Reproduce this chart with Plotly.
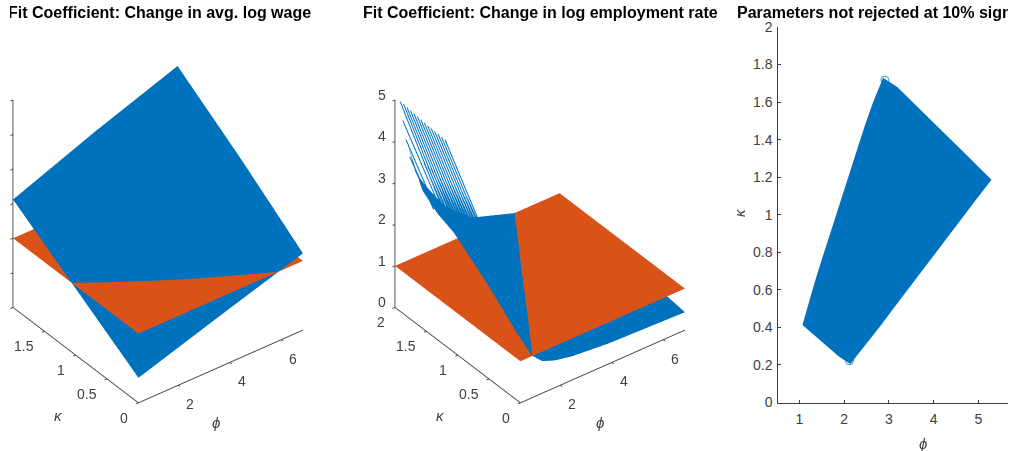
import plotly.graph_objects as go

BLUE = "#0072BD"
ORANGE = "#D95319"
INK = "#404040"

# --- panel 1 -------------------------------------------------------------
wage_phi = [0.45, 3.65, 6.85]
wage_kappa = [0.0, 1.0, 2.0]
wage_blue = [[0.36, 0.74, 1.11],
             [0.96, 1.40, 1.80],
             [1.56, 2.02, 2.44]]
wage_orange = [[1.0, 1.0, 1.0], [1.0, 1.0, 1.0], [1.0, 1.0, 1.0]]

# --- panel 2 -------------------------------------------------------------
emp_kappa = [0.0, 0.25, 0.5, 0.75, 1.0, 1.25, 1.5, 1.75, 2.0]
emp_phi = [
    [0.90, 0.90, 0.90, 0.91, 0.91, 0.92, 1.28, 1.75, 2.46, 3.89, 6.85],
    [0.90, 0.94, 1.00, 1.09, 1.22, 1.44, 1.76, 2.20, 2.85, 4.15, 6.85],
    [0.90, 0.99, 1.09, 1.27, 1.54, 1.97, 2.26, 2.65, 3.24, 4.41, 6.85],
    [0.90, 1.03, 1.19, 1.46, 1.85, 2.49, 2.75, 3.10, 3.62, 4.67, 6.85],
    [0.90, 1.07, 1.28, 1.64, 2.17, 3.01, 3.24, 3.55, 4.01, 4.93, 6.85],
    [0.90, 1.11, 1.37, 1.82, 2.48, 3.53, 3.73, 3.99, 4.39, 5.19, 6.85],
    [0.90, 1.15, 1.47, 2.00, 2.79, 4.06, 4.22, 4.45, 4.78, 5.45, 6.85],
    [0.90, 1.19, 1.56, 2.19, 3.11, 4.58, 4.72, 4.90, 5.17, 5.72, 6.85],
    [0.90, 1.24, 1.66, 2.37, 3.42, 5.10, 5.21, 5.35, 5.55, 5.98, 6.85],
]
emp_blue = [
    [1.02, 1.01, 1.01, 1.01, 1.00, 1.00, 0.78, 0.66, 0.57, 0.49, 0.43],
    [1.29, 1.25, 1.20, 1.13, 1.07, 1.00, 0.86, 0.75, 0.66, 0.56, 0.48],
    [1.64, 1.60, 1.49, 1.33, 1.16, 1.00, 0.90, 0.82, 0.73, 0.63, 0.53],
    [1.97, 1.90, 1.69, 1.44, 1.21, 1.00, 0.93, 0.86, 0.79, 0.69, 0.58],
    [2.26, 2.17, 1.87, 1.53, 1.24, 1.00, 0.95, 0.89, 0.83, 0.74, 0.63],
    [2.55, 2.41, 2.02, 1.60, 1.27, 1.00, 0.96, 0.92, 0.87, 0.79, 0.68],
    [2.70, 2.64, 2.15, 1.66, 1.29, 1.00, 0.97, 0.94, 0.90, 0.83, 0.73],
    [2.99, 2.65, 2.26, 1.71, 1.31, 1.00, 0.98, 0.96, 0.92, 0.87, 0.78],
    [3.90, 3.05, 2.59, 1.92, 1.35, 1.00, 0.99, 0.97, 0.95, 0.90, 0.83],
]
emp_orange_phi = [0.45, 6.85]
emp_orange_kappa = [0.0, 2.0]
emp_orange = [[1.0, 1.0], [1.0, 1.0]]

spike_kappa = [1.98, 1.97, 1.96, 1.95, 1.895, 1.84, 1.785, 1.73, 1.675, 1.62, 1.565, 1.51, 1.455, 1.40, 1.345, 1.29, 1.235,
               1.9225, 1.8675, 1.8125, 1.7575, 1.7025, 1.6475, 1.5925, 1.5375, 1.4825, 1.4275, 1.3725, 1.3175, 1.2625]
spike_phi_top = [0.98, 0.80, 0.66, 0.53, 0.53, 0.53, 0.53, 0.53, 0.53, 0.53, 0.53, 0.53, 0.53, 0.53, 0.53, 0.53, 0.53,
                 1.40, 1.40, 1.40, 1.40, 1.40, 1.40, 1.40, 1.40, 1.40, 1.40, 1.40, 1.40, 1.40]
spike_z_top = [3.50, 3.99, 4.49, 5.0, 5.0, 4.98, 4.97, 4.96, 4.95, 4.94, 4.93, 4.92, 4.92, 4.91, 4.91, 4.90, 4.90,
               3.30, 3.30, 3.30, 3.30, 3.30, 3.30, 3.30, 3.30, 3.30, 3.30, 3.30, 3.30, 3.30]
spike_phi_bot = [1.91, 1.96, 2.06, 2.12, 2.11, 2.10, 2.08, 2.07, 2.06, 2.05, 2.03, 2.02, 2.01, 2.00, 1.98, 1.97, 1.96,
                 2.11, 2.10, 2.09, 2.08, 2.07, 2.06, 2.04, 2.03, 2.02, 2.01, 1.99, 1.98, 1.97]
spike_z_bot = [1.98, 2.00, 2.08, 2.07, 2.09, 2.12, 2.14, 2.16, 2.19, 2.21, 2.24, 2.26, 2.28, 2.31, 2.33, 2.36, 2.38,
               2.08, 2.10, 2.13, 2.15, 2.17, 2.20, 2.22, 2.25, 2.27, 2.29, 2.32, 2.34, 2.37]

# --- panel 3 -------------------------------------------------------------
region_phi = [1.48, 1.65, 1.815, 1.99, 2.16, 2.35, 2.53, 2.72, 2.91,
              3.14, 3.36, 3.59, 3.82, 4.045, 4.27, 4.5, 4.725, 4.95, 5.18,
              4.87, 4.57, 4.26, 3.955, 3.65, 3.34, 3.03, 2.73, 2.42, 2.12,
              1.926, 1.736, 1.546, 1.355, 1.165, 1.32, 1.48]
region_kappa = [0.68, 0.81, 0.94, 1.07, 1.20, 1.33, 1.46, 1.59, 1.70,
                1.664, 1.61, 1.557, 1.504, 1.451, 1.398, 1.345, 1.29, 1.238, 1.185,
                1.089, 0.992, 0.896, 0.80, 0.703, 0.607, 0.511, 0.415, 0.318, 0.232,
                0.262, 0.30, 0.34, 0.38, 0.42, 0.55, 0.68]
tip_phi = [2.91, 2.12]
tip_kappa = [1.717, 0.222]

phi_ticks = [2, 4, 6]
kappa_ticks = [0, 0.5, 1, 1.5, 2]
kappa_labels_1 = ["0", "0.5", "1", "1.5"]
kappa_labels_2 = ["0", "0.5", "1", "1.5", "2"]
emp_z_ticks = [0, 1, 2, 3, 4, 5]
wage_z_ticks = [0, 0.5, 1, 1.5, 2, 2.5, 3]
phi3_ticks = [1, 2, 3, 4, 5]
kappa3_ticks = [0, 0.2, 0.4, 0.6, 0.8, 1, 1.2, 1.4, 1.6, 1.8, 2]
titles = ["Fit Coefficient: Change in avg. log wage",
          "Fit Coefficient: Change in log employment rate",
          "Parameters not rejected at 10% sign"]

W, H = 1013, 451
PHI_MIN, PHI_MAX = 0.45, 6.85
LIGHT = dict(ambient=1, diffuse=0, specular=0, fresnel=0, roughness=1)


def surf(x, y, z, color, scene):
    return go.Surface(x=x, y=y, z=z, scene=scene, showscale=False, opacity=1,
                      colorscale=[[0, color], [1, color]], lighting=LIGHT, hoverinfo="skip",
                      contours=dict(x=dict(highlight=False), y=dict(highlight=False), z=dict(highlight=False)))


fig = go.Figure()
fig.add_trace(surf(wage_phi, wage_kappa, wage_blue, BLUE, "scene"))
fig.add_trace(surf(wage_phi, wage_kappa, wage_orange, ORANGE, "scene"))
fig.add_trace(surf(emp_phi, [[k] * len(emp_phi[0]) for k in emp_kappa], emp_blue, BLUE, "scene2"))
fig.add_trace(surf([PHI_MIN, PHI_MAX], emp_orange_kappa, emp_orange, ORANGE, "scene2"))
for k, p0, z0, p1, z1 in zip(spike_kappa, spike_phi_top, spike_z_top, spike_phi_bot, spike_z_bot):
    fig.add_trace(go.Scatter3d(x=[p0, p1], y=[k, k], z=[z0, z1], mode="lines", scene="scene2",
                               line=dict(color=BLUE, width=2), showlegend=False, hoverinfo="skip"))

fig.add_trace(go.Scatter(x=region_phi, y=region_kappa, mode="lines", fill="toself", fillcolor=BLUE,
                         line=dict(color=BLUE, width=7.5), showlegend=False, hoverinfo="skip"))
fig.add_trace(go.Scatter(x=tip_phi, y=tip_kappa, mode="markers",
                         marker=dict(symbol="circle-open", size=8, color=BLUE, line=dict(width=0.8, color=BLUE)),
                         showlegend=False, hoverinfo="skip"))


def axis3(rng, ticks):
    return dict(range=rng, tickmode="array", tickvals=ticks, showgrid=False, showbackground=False, zeroline=False,
                showspikes=False, showline=True, linecolor=INK, linewidth=2, ticks="outside", ticklen=3,
                tickcolor=INK, tickwidth=2, showticklabels=False, title=dict(text=""))


def scene_labels(z_ticks, kappa_texts, show_z):
    font = dict(family="Liberation Sans", size=14, color=INK)
    out = []
    kappa_shift = [-14, -20, -14.5, -20, -14]
    for k, s, dx in zip(kappa_ticks, kappa_texts, kappa_shift):
        out.append(dict(x=PHI_MIN, y=k, z=0, text=s, showarrow=False, xshift=dx, yshift=-15, font=font))
    for p in phi_ticks:
        out.append(dict(x=p, y=0, z=0, text=str(p), showarrow=False, xshift=12, yshift=-19, font=font))
    if show_z:
        for t in z_ticks:
            out.append(dict(x=PHI_MIN, y=2, z=t, text=str(t), showarrow=False, xshift=-13, yshift=5, font=font))
    return out


R = 2.0
camera = dict(projection=dict(type="orthographic"), center=dict(x=0, y=0, z=0), up=dict(x=0, y=0, z=1),
              eye=dict(x=-0.494 * R, y=-0.648 * R, z=0.58 * R))
aspect = dict(x=1, y=1, z=1.23)
SCENE_Y = [1 - 422 / H, 1 - 8 / H]

ann = []
def text(x, y, s, size=15, bold=False, xa="center", angle=0):
    ann.append(dict(x=x / W, y=1 - y / H, xref="paper", yref="paper", text=f"<b>{s}</b>" if bold else s,
                    showarrow=False, xanchor=xa, yanchor="middle", textangle=angle,
                    font=dict(family="Liberation Sans", size=size, color="#000000" if bold else INK)))

text(313, 13, titles[0], 16, True, "right")
text(361, 13, titles[1], 16, True, "left")
text(735, 13, titles[2], 16, True, "left")
text(216, 422, "<i>ϕ</i>")
text(58, 415, "<i>κ</i>")
text(600, 422, "<i>ϕ</i>")
text(440, 415, "<i>κ</i>")
text(923, 443, "<i>ϕ</i>")
text(739, 213, "<i>κ</i>", angle=-90)
# the reference image is cropped just inside both ends of the title row
for x0, x1 in [(0, 10), (1008, 1013)]:
    ann.append(dict(x=x0 / W, y=1 - 3 / H, xref="paper", yref="paper", xanchor="left", yanchor="top", text=" ",
                    showarrow=False, bgcolor="white", width=x1 - x0, height=22, borderpad=0, borderwidth=0))

tick3 = dict(family="Liberation Sans", size=14, color=INK)
fig.update_layout(
    width=W, height=H, autosize=False, margin=dict(l=0, r=0, t=0, b=0, autoexpand=False), paper_bgcolor="white",
    plot_bgcolor="white", showlegend=False, annotations=ann,
    scene=dict(domain=dict(x=[0, 316 / W], y=SCENE_Y), camera=camera, aspectmode="manual", aspectratio=aspect,
               xaxis=axis3([PHI_MIN, PHI_MAX], phi_ticks), yaxis=axis3([0, 2], kappa_ticks),
               zaxis=axis3([0, 3], wage_z_ticks), annotations=scene_labels(wage_z_ticks, kappa_labels_1, False)),
    scene2=dict(domain=dict(x=[360 / W, 720 / W], y=SCENE_Y), camera=camera, aspectmode="manual", aspectratio=aspect,
                xaxis=axis3([PHI_MIN, PHI_MAX], phi_ticks), yaxis=axis3([0, 2], kappa_ticks),
                zaxis=axis3([0, 5], emp_z_ticks), annotations=scene_labels(emp_z_ticks, kappa_labels_2, True)),
    xaxis=dict(domain=[778.3 / W, 1008 / W], range=[0.53, 5.66], tickvals=phi3_ticks, ticks="inside", ticklen=3,
               showgrid=False, zeroline=False, showline=True, linecolor=INK, linewidth=1, tickcolor=INK,
               anchor="y", tickfont=tick3, ticklabelstandoff=4),
    yaxis=dict(domain=[1 - 402.5 / H, 1 - 27 / H], range=[0, 2], tickvals=kappa3_ticks, ticks="inside", ticklen=3,
               showgrid=False, zeroline=False, showline=True, linecolor=INK, linewidth=1, tickcolor=INK,
               anchor="x", tickfont=tick3, ticklabelstandoff=2),
)
fig.write_html("out.html", post_script="document.body.style.margin='0';", config={"displayModeBar": False})
